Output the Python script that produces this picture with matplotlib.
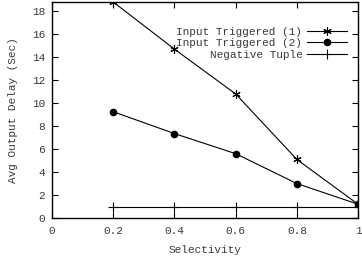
import matplotlib
matplotlib.use('Agg')
import matplotlib.pyplot as plt

selectivity = [0.2, 0.4, 0.6, 0.8, 1.0]
input_trig_1 = [18.8, 14.7, 10.8, 5.1, 1.2]
input_trig_2 = [9.25, 7.35, 5.6, 3.0, 1.2]
negative_tuple = [1.0, 1.0, 1.0, 1.0, 1.0]

plt.rcParams['font.family'] = 'Liberation Mono'
plt.rcParams['font.size'] = 8
txt = '#3a3a3a'

fig = plt.figure(figsize=(3.62, 2.58), dpi=100)
ax = fig.add_axes([0.144, 0.155, 0.845, 0.837])

ax.plot(selectivity, input_trig_1, color='black', lw=0.8, marker=(6, 2, 0), ms=6, mew=0.8,
        label='Input Triggered (1)')
ax.plot(selectivity, input_trig_2, color='black', lw=0.8, marker='o', ms=4.5,
        label='Input Triggered (2)')
ax.plot(selectivity, negative_tuple, color='black', lw=0.8, marker='+', ms=7, mew=0.8,
        label='Negative Tuple')

ax.set_xlim(0, 1)
ax.set_ylim(0, 18.8)
ax.set_xticks([0, 0.2, 0.4, 0.6, 0.8, 1])
ax.set_xticklabels(['0', '0.2', '0.4', '0.6', '0.8', '1'])
ax.set_yticks(range(0, 19, 2))
ax.tick_params(direction='in', top=True, right=True, length=4, width=0.8, pad=6,
               labelcolor=txt, labelsize=8)
ax.tick_params(axis='y', pad=5)
for s in ax.spines.values():
    s.set_linewidth(1.0)

ax.set_xlabel('Selectivity', labelpad=6, color=txt)
ax.set_ylabel('Avg Output Delay (Sec)', labelpad=10, color=txt)

leg = ax.legend(loc='upper right', bbox_to_anchor=(0.965, 0.885), frameon=False,
                markerfirst=False, handlelength=3.6, handletextpad=0.45,
                labelspacing=0.12, borderaxespad=0, borderpad=0, fontsize=8)
for t in leg.get_texts():
    t.set_color(txt)

fig.savefig('out.png', dpi=100)
